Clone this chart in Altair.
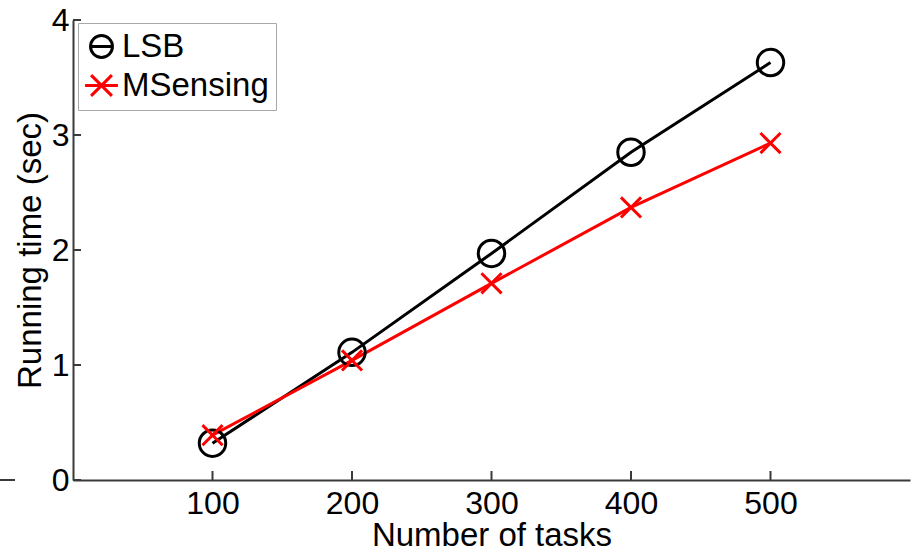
import altair as alt
import pandas as pd

# ---- data ----
tasks = [100, 200, 300, 400, 500]
lsb = [0.32, 1.11, 1.97, 2.85, 3.63]
msensing = [0.39, 1.04, 1.71, 2.37, 2.93]
methods = ["LSB", "MSensing"]
colors = ["#000000", "#ff0000"]
x_ticks = [100, 200, 300, 400, 500]
y_ticks = [0, 1, 2, 3, 4]

FONT = "Liberation Sans"
AXIS_COLOR = "#3a3a3a"

df = pd.DataFrame({
    "tasks": tasks * 2,
    "time": lsb + msensing,
    "method": ["LSB"] * len(tasks) + ["MSensing"] * len(tasks),
})
df["label"] = df["method"]

circle = "M-1,0A1,1 0 1,1 1,0A1,1 0 1,1 -1,0Z"
cross = "M-0.76,-0.76L0.76,0.76M-0.76,0.76L0.76,-0.76"
leg_circle = "M-1,0A1,1 0 1,1 1,0A1,1 0 1,1 -1,0ZM-1.05,0L1.05,0"
leg_cross = "M-0.95,-0.95L0.95,0.95M-0.95,0.95L0.95,-0.95M-1.5,0L1.5,0"

xs = alt.Scale(domain=[0, 600], nice=False, zero=False)
ys = alt.Scale(domain=[0, 4], nice=False)

xaxis = alt.Axis(values=x_ticks, title="Number of tasks", labelPadding=8,
                 titlePadding=0, format="d")
yaxis = alt.Axis(values=y_ticks, title="Running time (sec)", labelPadding=4,
                 titlePadding=4, format="d")

base = alt.Chart(df)

lines = base.mark_line(strokeWidth=3).encode(
    x=alt.X("tasks:Q", scale=xs, axis=xaxis),
    y=alt.Y("time:Q", scale=ys, axis=yaxis),
    color=alt.Color("method:N", scale=alt.Scale(domain=methods, range=colors), legend=None),
    detail="method:N",
)

points = base.mark_point(filled=False, strokeWidth=3, size=700, opacity=1).encode(
    x=alt.X("tasks:Q", scale=xs, axis=xaxis),
    y=alt.Y("time:Q", scale=ys, axis=yaxis),
    color=alt.Color("method:N", scale=alt.Scale(domain=methods, range=colors), legend=None),
    shape=alt.Shape("method:N", scale=alt.Scale(domain=methods, range=[circle, cross]), legend=None),
)

leg = alt.Legend(
    title=None, orient="none", legendX=5, legendY=3,
    labelFont=FONT, labelFontSize=33, labelColor="#000000",
    symbolSize=480, symbolStrokeWidth=3, symbolFillColor="transparent",
    strokeColor="#a8a8a8", fillColor="#ffffff", padding=7, rowPadding=5,
    labelOffset=4, cornerRadius=0,
)

legend_layer = base.transform_filter("false").mark_point(filled=False, strokeWidth=3, opacity=1).encode(
    x=alt.X("tasks:Q", scale=xs, axis=xaxis),
    y=alt.Y("time:Q", scale=ys, axis=yaxis),
    color=alt.Color("label:N", scale=alt.Scale(domain=methods, range=colors), legend=leg),
    shape=alt.Shape("label:N", scale=alt.Scale(domain=methods, range=[leg_circle, leg_cross]), legend=leg),
)

ytick_rules = alt.Chart(pd.DataFrame({"tasks": [0] * len(y_ticks), "time": y_ticks})).mark_rule(
    color=AXIS_COLOR, strokeWidth=2).encode(
    y=alt.Y("time:Q", scale=ys, axis=yaxis), x=alt.value(0), x2=alt.value(8)
)
xtick_rules = alt.Chart(pd.DataFrame({"tasks": x_ticks, "time": [0] * len(x_ticks)})).mark_rule(
    color=AXIS_COLOR, strokeWidth=2).encode(
    x=alt.X("tasks:Q", scale=xs, axis=xaxis), y=alt.value(460), y2=alt.value(451)
)
stray = alt.Chart(pd.DataFrame({"time": [0]})).mark_rule(color=AXIS_COLOR, strokeWidth=2).encode(
    y=alt.Y("time:Q", scale=ys, axis=yaxis), x=alt.value(-73), x2=alt.value(-58)
)

chart = alt.layer(lines, points, legend_layer, ytick_rules, xtick_rules, stray).resolve_scale(
    color="independent", shape="independent"
).properties(
    width=837, height=460,
    padding={"left": 73, "top": 20, "right": 8, "bottom": 71},
    autosize=alt.AutoSizeParams(type="none"),
    background="#ffffff",
).configure_view(stroke=None).configure_axis(
    domainColor=AXIS_COLOR, domainWidth=2, grid=False, ticks=False, tickSize=0,
    labelFont=FONT, labelFontSize=32, labelColor="#000000",
    titleFont=FONT, titleFontSize=33, titleFontWeight="normal", titleColor="#000000",
)

chart.save("out.html", embed_options={"renderer": "svg", "actions": False})
